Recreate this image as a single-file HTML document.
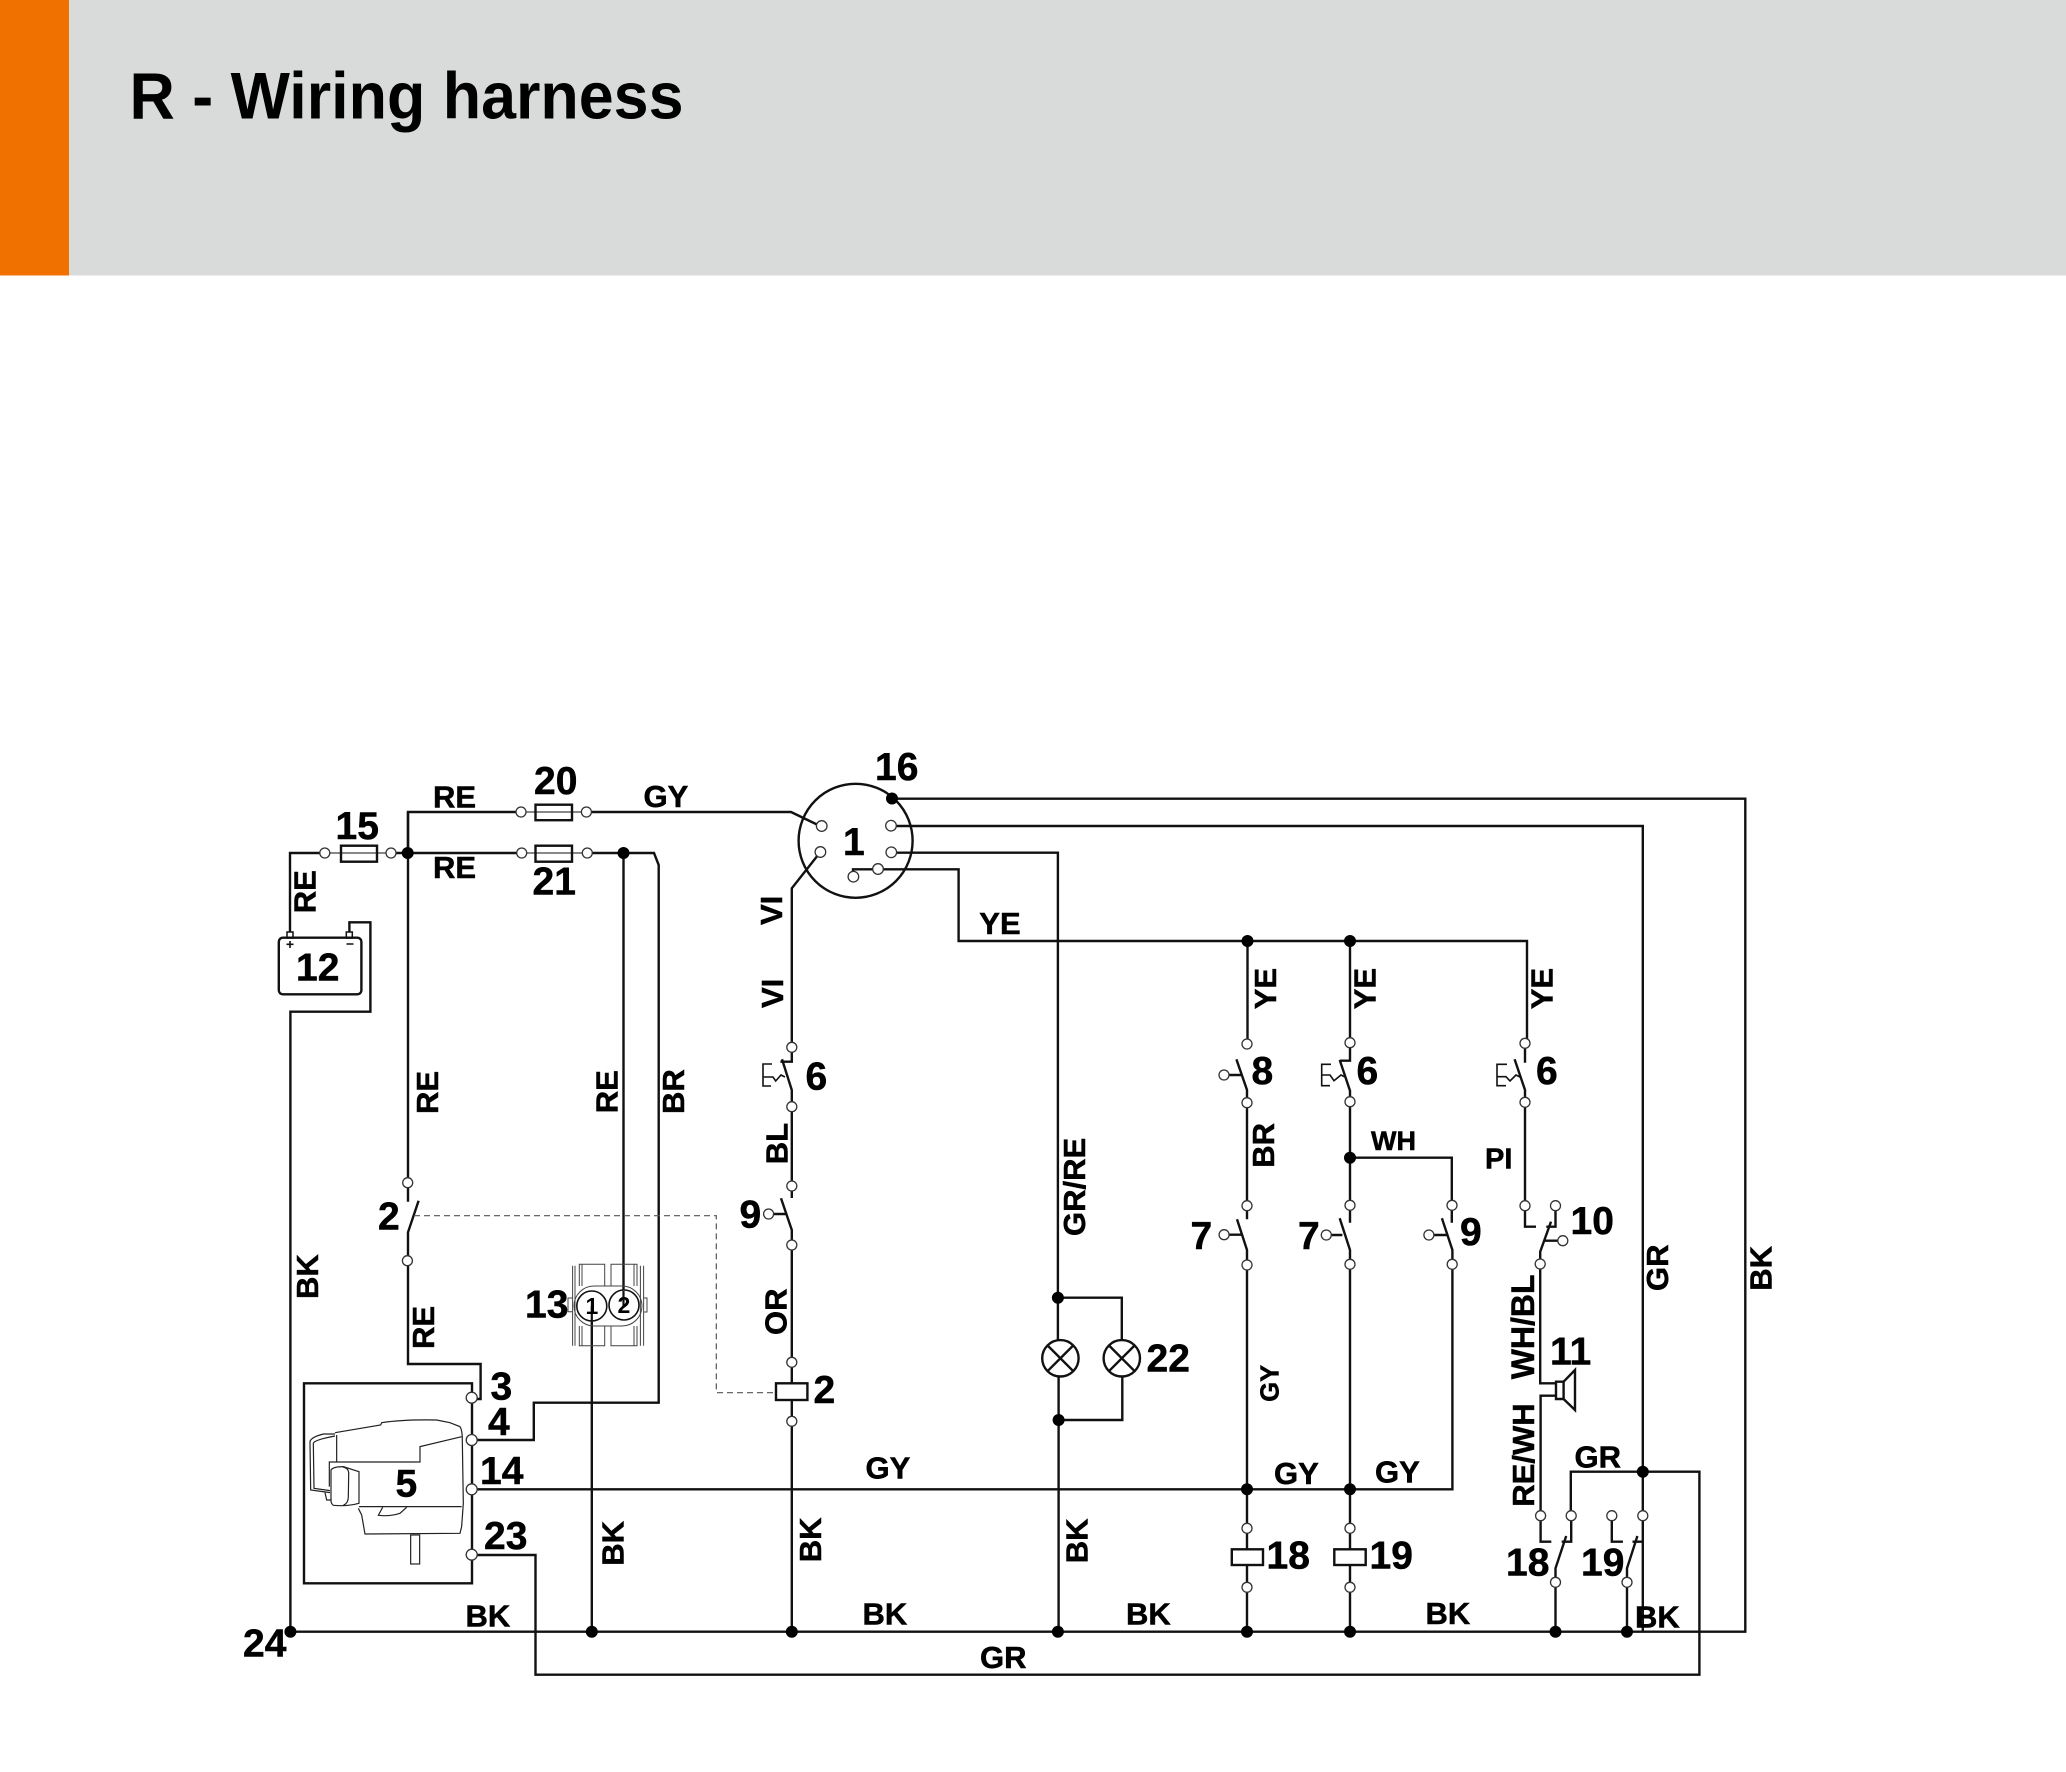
<!DOCTYPE html>
<html><head><meta charset="utf-8"><title>R - Wiring harness</title>
<style>
html,body{margin:0;padding:0;background:#fff;width:2066px;height:1772px;overflow:hidden}
svg{display:block}
text{font-family:"Liberation Sans",Arial,sans-serif;font-weight:700;fill:#000}
.w{fill:none;stroke:#111;stroke-width:2.4;stroke-linejoin:miter}
.t{fill:#fff;stroke:#333;stroke-width:1.3}
.thin{fill:none;stroke:#444;stroke-width:1}
.l text{font-size:31px;stroke:#000;stroke-width:.5px}
.n text{font-size:39px;stroke:#000;stroke-width:.5px}
</style></head><body>
<svg width="2066" height="1772" viewBox="0 0 2066 1772" xmlns="http://www.w3.org/2000/svg">
<rect x="0" y="0" width="2066" height="275.5" fill="#d9dbda"/>
<rect x="0" y="0" width="69" height="275.5" fill="#f07000"/>
<text x="129.5" y="118.3" font-size="66" textLength="554" lengthAdjust="spacingAndGlyphs">R - Wiring harness</text>

<!-- wires -->
<g class="w">
<path d="M408 853V812H521M586 812H791L818 825"/>
<path d="M290 932V853H325M391 853H521M587 853H654L658.7 865V1402.7H533.8V1440H472"/>
<path d="M623.5 853V1291"/>
<path d="M408 812V1201.7M418.6 1200.7L408 1232.3V1364H480.6V1399H472"/>
<path d="M472 1383.3H304V1583.3H472Z"/>
<path d="M892 798.7H1745.3V1631.7H290.4V1011.7H370.4V922.3H349.4V932"/>
<path d="M891 826H1642.8V1631"/>
<path d="M891 852.7H1057.9V1340M1058.6 1376.7V1631.7"/>
<path d="M853 877V869.3H958.6V941H1527V1043"/>
<path d="M1057.9 1297.7H1121.8V1340M1122.3 1376.7V1420H1058.6"/>
<path d="M820.4 852L791.8 888.3V1061.7H780.4M782 1059.3L791.8 1090V1198M781 1198.3L791.8 1230V1383M791.8 1400V1631.7"/>
<path d="M768.6 1214H785.5"/>
<path d="M1247.5 941V1044M1236.4 1059.3L1247 1090V1219.3M1237 1219.3L1247 1250V1549M1247 1565V1631.7"/>
<path d="M1224 1075H1241M1224 1234.7H1242"/>
<path d="M1350 941V1060.7H1339.7M1339.7 1060L1350 1090.7V1222.7M1339.7 1218.3L1350 1250V1549M1350 1565V1631.7"/>
<path d="M1326.3 1235H1342.4"/>
<path d="M1350 1157.7H1451.8V1222.7M1441.9 1218.3L1452.4 1250V1489.3H472"/>
<path d="M1428.9 1235H1446.8"/>
<path d="M1525 1043.3V1062.7M1514.6 1059.3L1525 1090V1226.7H1536"/>
<path d="M1555.5 1205.7V1226.7H1546.3M1551 1221.7L1540.2 1251.7V1383.3H1556M1544 1240.7H1562.8"/>
<path d="M1556 1395.7H1540.6V1541.7H1551.3"/>
<path d="M1571.2 1515.7V1541.7H1561.7M1566.2 1536L1555.5 1568.3V1631.7"/>
<path d="M1611.8 1515.7V1541.7H1622.9M1642.8 1541.7H1632.5M1637.4 1536L1627 1568.3V1631.7"/>
<path d="M472 1555H535.5V1674.7H1699.4V1471.7H1570.8V1515.7"/>
<path d="M591.8 1322V1631.7"/>
<!-- speaker -->
<path d="M1556 1381.7H1563.6V1399H1556ZM1563.6 1381.7L1575 1370V1410L1563.6 1399"/>
<!-- fuses -->
<rect x="341" y="845.7" width="36" height="16" fill="#fff"/>
<rect x="535.5" y="804.7" width="36.5" height="15.5" fill="#fff"/>
<rect x="535.5" y="845.7" width="36.5" height="16" fill="#fff"/>
<path d="M325 853H391M521 812H586M521 853H587" stroke-width="1"/>
<!-- coils -->
<rect x="776" y="1383.3" width="31.4" height="16.7"/>
<rect x="1231.8" y="1549.3" width="31.2" height="15.7"/>
<rect x="1334.3" y="1549.3" width="31.4" height="15.7"/>
<!-- battery -->
<rect x="278.8" y="937.7" width="82.6" height="56.6" rx="4" fill="#fff"/>
<rect x="287" y="932" width="6" height="6" stroke-width="1.5"/>
<rect x="346.3" y="932" width="6" height="6" stroke-width="1.5"/>
<path d="M286.5 944.3H293.5M290 941V948M346.5 944H353.5" stroke-width="1.6"/>
<!-- connector 1 -->
<circle cx="855.6" cy="840.8" r="57"/>
<!-- lamps -->
<circle cx="1060.4" cy="1358.3" r="18.2" fill="#fff"/>
<path d="M1047.5 1345.4L1073.3 1371.2M1073.3 1345.4L1047.5 1371.2"/>
<circle cx="1121.8" cy="1358.3" r="18.2" fill="#fff"/>
<path d="M1108.9 1345.4L1134.7 1371.2M1134.7 1345.4L1108.9 1371.2"/>
</g>

<!-- thermal actuators -->
<g fill="none" stroke="#111" stroke-width="1.6">
<path d="M772 1064H763V1086H771M763 1077H773L775.7 1081L781 1075L785 1077"/>
<path d="M1331 1064.3H1321.7V1085.7H1330M1321.7 1075H1330L1334 1080.7L1341 1075L1345 1077"/>
<path d="M1507 1064.3H1497V1085.7H1506M1497 1076.7H1506L1510 1081L1516 1075L1520 1077"/>
</g>

<!-- dashed mechanical link -->
<path d="M414 1215.7H716.3V1392.7H776" fill="none" stroke="#555" stroke-width="1.2" stroke-dasharray="6 4"/>

<!-- engine -->
<g transform="translate(290 1360) scale(.3333)" fill="none" stroke="#222" stroke-width="3.6">
<path d="M135 218L272 195L275 188Q340 178 440 180L480 188L510 200Q517 210 517 240L520 430L515 500L510 520L225 522L215 465L205 445"/>
<path d="M515 230L390 260V306H118V380"/>
<path d="M135 222L100 222Q62 232 60 245L62 390L120 398M140 225V306M135 228Q72 240 70 250L72 385L120 392M105 398L110 420L125 420"/>
<path d="M123 330Q130 320 160 320L207 335V430Q170 440 130 436Q122 430 123 420ZM160 322Q178 325 176 345L175 410Q175 430 160 436"/>
<path d="M207 440H515M278 442L265 466Q300 470 330 460L350 442"/>
<rect x="362" y="525" width="27" height="87"/>
</g>

<!-- connector 13 -->
<g class="thin">
<rect x="574" y="1286" width="68" height="40" rx="20"/>
<path d="M572.6 1265.7V1345.7M575 1265.7V1345.7M640.4 1265.7V1345.7M643.6 1265.7V1345.7"/>
<path d="M579.3 1286V1264.3H604.7V1286M582 1286V1264.3M611 1286V1264.3H637V1286M634 1286V1264.3"/>
<path d="M579.3 1326V1345.7H604.7V1326M582 1326V1345.7M611 1326V1345.7H637V1326M634 1326V1345.7"/>
<path d="M572.6 1298H568V1311.7H572.6M643.6 1298H647V1312H643.6"/>
</g>
<circle cx="591.8" cy="1306" r="15" fill="#fff" stroke="#111" stroke-width="1.6"/>
<circle cx="624" cy="1305" r="15" fill="#fff" stroke="#111" stroke-width="1.6"/>
<path d="M623.5 1291V1306" stroke="#111" stroke-width="2.2"/>
<path d="M591.8 1306V1322" stroke="#111" stroke-width="2.2"/>
<text x="585.5" y="1314" font-size="23">1</text>
<text x="617.5" y="1313" font-size="23">2</text>

<!-- open terminals -->
<g class="t">
<circle cx="324.8" cy="853" r="5"/><circle cx="391" cy="853" r="5"/>
<circle cx="521" cy="812" r="5"/><circle cx="586.4" cy="812" r="5"/>
<circle cx="521.7" cy="853" r="5"/><circle cx="587.3" cy="853" r="5"/>
<circle cx="821.7" cy="826" r="5.3"/><circle cx="820.4" cy="852" r="5.3"/>
<circle cx="891" cy="825.7" r="5.3"/><circle cx="891.3" cy="852.3" r="5.3"/>
<circle cx="878" cy="869" r="5.3"/><circle cx="853.4" cy="876.7" r="5.3"/>
<circle cx="791.8" cy="1047.3" r="5"/><circle cx="791.8" cy="1106.7" r="5"/>
<circle cx="791.8" cy="1186" r="5"/><circle cx="791.8" cy="1245" r="5"/>
<circle cx="768.6" cy="1214" r="5"/>
<circle cx="791.8" cy="1362.3" r="5"/><circle cx="791.8" cy="1421.3" r="5"/>
<circle cx="407.7" cy="1182.7" r="5"/><circle cx="407.4" cy="1260.7" r="5"/>
<circle cx="471.7" cy="1397.7" r="5.5"/><circle cx="471.7" cy="1440" r="5.5"/>
<circle cx="471.7" cy="1489.3" r="5.5"/><circle cx="471.7" cy="1554.7" r="5.5"/>
<circle cx="1247" cy="1044" r="5"/><circle cx="1247" cy="1102.7" r="5"/><circle cx="1224" cy="1075" r="5"/>
<circle cx="1247" cy="1205.7" r="5"/><circle cx="1247" cy="1265" r="5"/><circle cx="1224.1" cy="1234.7" r="5"/>
<circle cx="1247" cy="1528.3" r="5"/><circle cx="1247" cy="1587.3" r="5"/>
<circle cx="1350" cy="1042.7" r="5"/><circle cx="1350" cy="1101.7" r="5"/>
<circle cx="1350" cy="1205.3" r="5"/><circle cx="1350" cy="1264.3" r="5"/><circle cx="1326.3" cy="1235" r="5"/>
<circle cx="1350" cy="1528.3" r="5"/><circle cx="1350" cy="1587.3" r="5"/>
<circle cx="1452" cy="1205.3" r="5"/><circle cx="1452.2" cy="1264.3" r="5"/><circle cx="1428.9" cy="1235" r="5"/>
<circle cx="1525" cy="1043.3" r="5"/><circle cx="1525" cy="1102.3" r="5"/>
<circle cx="1525" cy="1205.7" r="5"/><circle cx="1555.5" cy="1205.7" r="5"/>
<circle cx="1562.8" cy="1240.7" r="5"/><circle cx="1540.2" cy="1264" r="5"/>
<circle cx="1540.6" cy="1515.7" r="5"/><circle cx="1571.2" cy="1515.7" r="5"/>
<circle cx="1611.8" cy="1515.7" r="5"/><circle cx="1642.8" cy="1515.7" r="5"/>
<circle cx="1555.5" cy="1582.3" r="5"/><circle cx="1627" cy="1582.3" r="5"/>
</g>

<!-- junction dots -->
<g fill="#000">
<circle cx="407.7" cy="853" r="6"/><circle cx="623.5" cy="853" r="6"/>
<circle cx="892" cy="798.5" r="6"/>
<circle cx="1247.5" cy="941" r="6"/><circle cx="1350" cy="941" r="6"/>
<circle cx="1350" cy="1157.7" r="6"/>
<circle cx="1057.9" cy="1297.7" r="6"/><circle cx="1058.6" cy="1420" r="6"/>
<circle cx="1247" cy="1489.3" r="6"/><circle cx="1350" cy="1489.3" r="6"/>
<circle cx="1642.8" cy="1471.7" r="6"/>
<circle cx="290.4" cy="1631.7" r="6"/><circle cx="591.8" cy="1631.7" r="6"/>
<circle cx="791.8" cy="1631.7" r="6"/><circle cx="1057.9" cy="1631.7" r="6"/>
<circle cx="1247" cy="1631.7" r="6"/><circle cx="1350" cy="1631.7" r="6"/>
<circle cx="1555.5" cy="1631.7" r="6"/><circle cx="1627" cy="1631.7" r="6"/>
</g>

<!-- horizontal wire labels -->
<g class="l" transform="translate(0 -1)">
<text x="433" y="808.3">RE</text>
<text x="643.5" y="808">GY</text>
<text x="433" y="879">RE</text>
<text x="979.3" y="935">YE</text>
<text x="465.5" y="1627.3">BK</text>
<text x="862.5" y="1625.7">BK</text>
<text x="1126" y="1625.7">BK</text>
<text x="1425.5" y="1625">BK</text>
<text x="1635" y="1628.3">BK</text>
<text x="865.5" y="1479.3">GY</text>
<text x="1274" y="1485">GY</text>
<text x="1375" y="1483.3">GY</text>
<text x="980" y="1669">GR</text>
<text x="1574.5" y="1468.3">GR</text>
<text x="1371" y="1151" style="font-size:27px">WH</text>
<text x="1485" y="1169.3" style="font-size:29px">PI</text>
</g>

<!-- vertical wire labels -->
<g class="l" transform="translate(-1.5 0)">
<text transform="translate(316.8 913.3) rotate(-90)">RE</text>
<text transform="translate(439.6 1114) rotate(-90)">RE</text>
<text transform="translate(619 1113.3) rotate(-90)">RE</text>
<text transform="translate(685.5 1114) rotate(-90)">BR</text>
<text transform="translate(783.3 925) rotate(-90)">VI</text>
<text transform="translate(784.6 1008) rotate(-90)">VI</text>
<text transform="translate(789 1164.3) rotate(-90)">BL</text>
<text transform="translate(319.5 1299) rotate(-90)">BK</text>
<text transform="translate(435.5 1349) rotate(-90)">RE</text>
<text transform="translate(788.2 1335) rotate(-90)">OR</text>
<text transform="translate(624.8 1565.7) rotate(-90)">BK</text>
<text transform="translate(822.6 1562.3) rotate(-90)">BK</text>
<text transform="translate(1089 1563.3) rotate(-90)">BK</text>
<text transform="translate(1086.4 1236) rotate(-90)">GR/RE</text>
<text transform="translate(1277.5 1009.3) rotate(-90)">YE</text>
<text transform="translate(1376.8 1009.3) rotate(-90)">YE</text>
<text transform="translate(1554 1009.3) rotate(-90)">YE</text>
<text transform="translate(1275.7 1167.7) rotate(-90)">BR</text>
<text transform="translate(1280 1401.7) rotate(-90)" style="font-size:25.5px">GY</text>
<text transform="translate(1669.6 1291) rotate(-90)">GR</text>
<text transform="translate(1772.9 1290.7) rotate(-90)">BK</text>
<text transform="translate(1535.6 1379.3) rotate(-90)" style="font-size:32px">WH/BL</text>
<text transform="translate(1535.6 1506.7) rotate(-90)" style="font-size:31px">RE/WH</text>
</g>

<!-- component numbers -->
<g class="n" transform="translate(0 -1)">
<text x="534" y="795">20</text>
<text x="335.5" y="840">15</text>
<text x="532.5" y="895.7">21</text>
<text x="875" y="781">16</text>
<text x="843" y="856">1</text>
<text x="296" y="981.7">12</text>
<text x="805.5" y="1090.7">6</text>
<text x="378" y="1230.7">2</text>
<text x="739.5" y="1228.3">9</text>
<text x="525" y="1318.3">13</text>
<text x="813.5" y="1404">2</text>
<text x="490.5" y="1400.7">3</text>
<text x="488" y="1436">4</text>
<text x="480" y="1485">14</text>
<text x="484" y="1550">23</text>
<text x="395.5" y="1497.7">5</text>
<text x="243" y="1657.7">24</text>
<text x="1146.5" y="1372.7">22</text>
<text x="1251.5" y="1085">8</text>
<text x="1356.5" y="1085">6</text>
<text x="1536" y="1085">6</text>
<text x="1190.5" y="1250">7</text>
<text x="1298" y="1250">7</text>
<text x="1460" y="1246">9</text>
<text x="1570.5" y="1235">10</text>
<text x="1550" y="1365.7">11</text>
<text x="1266.5" y="1569.3">18</text>
<text x="1369.5" y="1569.3">19</text>
<text x="1506" y="1576.7">18</text>
<text x="1581" y="1576.7">19</text>
</g>
</svg>
</body></html>
